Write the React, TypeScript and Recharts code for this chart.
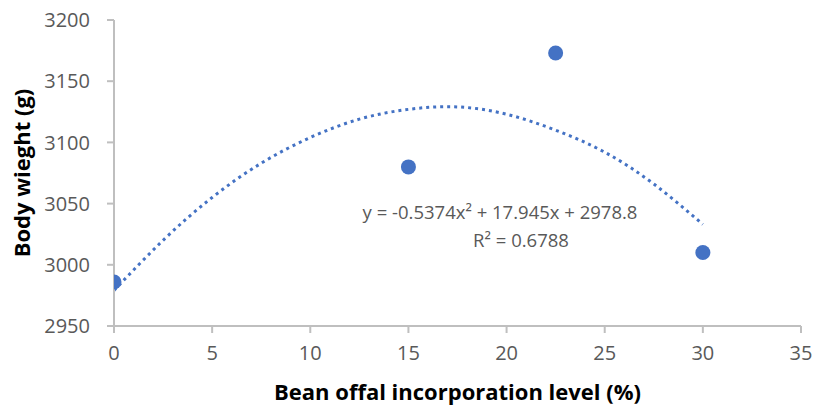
import {
  ComposedChart,
  Line,
  Scatter,
  XAxis,
  YAxis,
  Label,
} from 'recharts'

const levels = [0, 15, 22.5, 30]
const weights = [2986, 3080, 3173, 3010]

// dotted trend curve
const trendX = [0, 2.5, 5, 7.5, 10, 12.5, 15, 17.5, 20, 22.5, 25, 27.5, 30]
const trendY = [2979, 3020, 3055, 3083, 3104, 3119, 3127, 3129, 3123, 3110, 3092, 3066, 3033]

const xTicks = [0, 5, 10, 15, 20, 25, 30, 35]
const yTicks = [2950, 3000, 3050, 3100, 3150, 3200]

const points = levels.map((x, i) => ({ x, y: weights[i] }))
const trend = trendX.map((x, i) => ({ x, y: trendY[i] }))

const FONT = '"Open Sans", "Noto Sans", sans-serif'
const AXIS = '#bfbfbf'
const BLUE = '#4472c4'
const GREY = '#595959'

export default function App() {
  return (
    <div style={{ position: 'relative', width: 813, height: 411, fontFamily: FONT, background: '#fff' }}>
      <style>{`body{margin:0}`}</style>
      <ComposedChart width={813} height={411} margin={{ top: 20, right: 12, bottom: 0, left: 0 }}>
        <XAxis
          type="number"
          dataKey="x"
          domain={[0, 35]}
          ticks={xTicks}
          allowDataOverflow
          stroke={AXIS}
          strokeWidth={2}
          tickSize={7}
          tickMargin={13}
          tick={{ fill: GREY, fontSize: 20, fontFamily: FONT }}
          height={85}
        >
          <Label
            value="Bean offal incorporation level (%)"
            position="insideBottom"
            offset={11}
            style={{ fill: '#000', fontSize: 22, fontWeight: 700, fontFamily: FONT }}
          />
        </XAxis>
        <YAxis
          type="number"
          dataKey="y"
          domain={[2950, 3200]}
          ticks={yTicks}
          allowDataOverflow
          stroke={AXIS}
          strokeWidth={2}
          tickSize={7}
          tickMargin={17}
          tick={{ fill: GREY, fontSize: 20, fontFamily: FONT }}
          width={114}
        >
          <Label
            value="Body wieght (g)"
            angle={-90}
            position="insideLeft"
            offset={22}
            style={{ fill: '#000', fontSize: 22, fontWeight: 700, fontFamily: FONT, textAnchor: 'middle' }}
          />
        </YAxis>
        <Line
          data={trend}
          dataKey="y"
          type="natural"
          stroke={BLUE}
          strokeWidth={3}
          strokeDasharray="3 4"
          dot={false}
          activeDot={false}
          isAnimationActive={false}
        />
        <Scatter
          data={points}
          dataKey="y"
          fill={BLUE}
          shape={(p: any) => <circle cx={p.cx} cy={p.cy} r={7.5} fill={BLUE} />}
          isAnimationActive={false}
        />
      </ComposedChart>
      <div
        style={{
          position: 'absolute',
          left: 340,
          top: 198,
          width: 320,
          textAlign: 'center',
          color: GREY,
          fontSize: 18.5,
          lineHeight: '28px',
          fontFamily: FONT,
        }}
      >
        y = -0.5374x² + 17.945x + 2978.8
      </div>
      <div
        style={{
          position: 'absolute',
          left: 421,
          top: 226,
          width: 200,
          textAlign: 'center',
          color: GREY,
          fontSize: 18.5,
          lineHeight: '28px',
          fontFamily: FONT,
        }}
      >
        R² = 0.6788
      </div>
    </div>
  )
}
